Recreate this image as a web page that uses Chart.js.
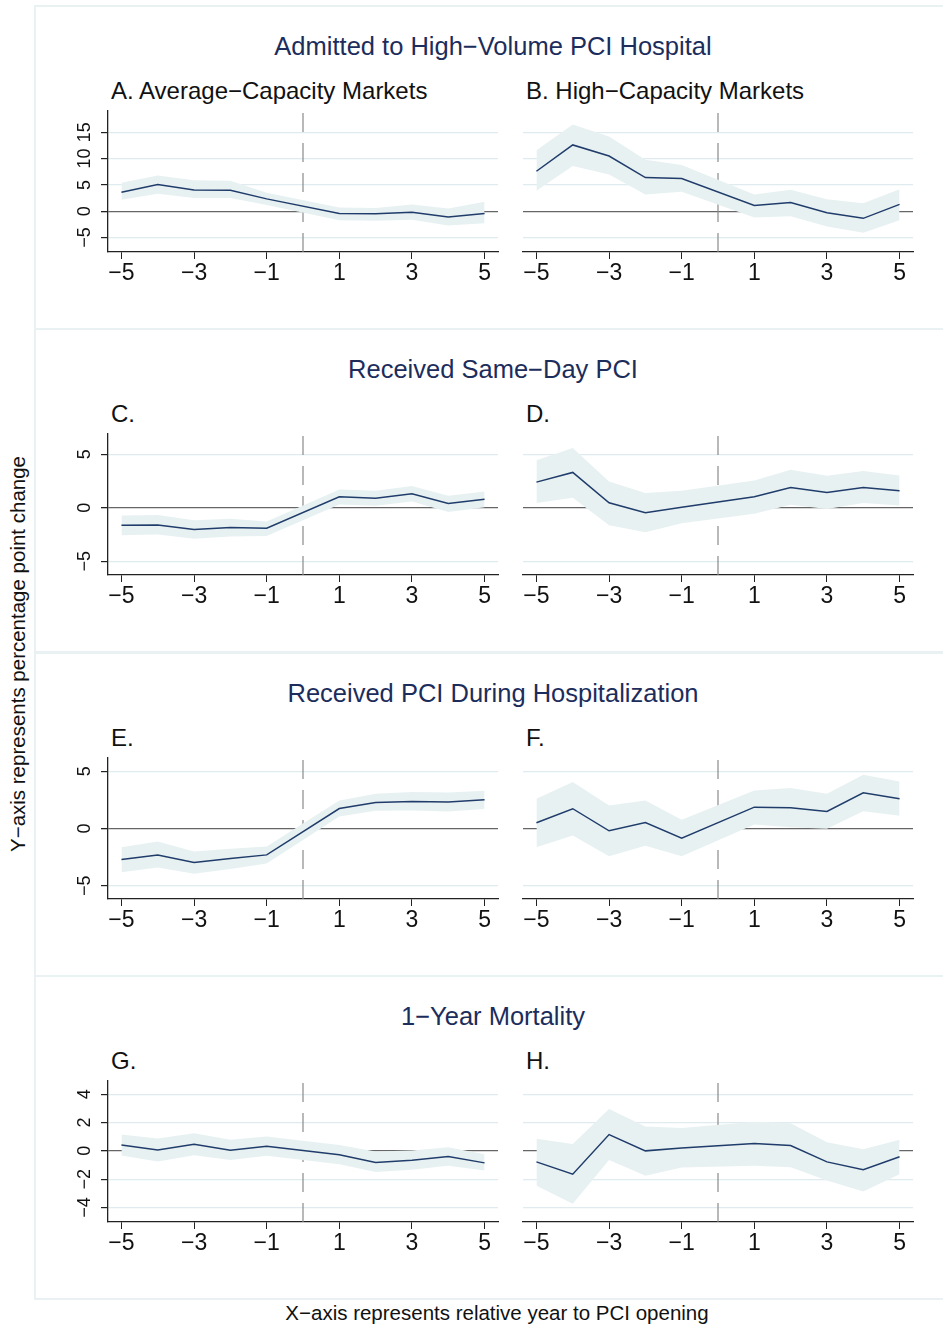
<!DOCTYPE html>
<html>
<head>
<meta charset="utf-8">
<script src="https://cdn.jsdelivr.net/npm/chart.js@4.4.0/dist/chart.umd.min.js"></script>
<style>
  html, body { margin: 0; padding: 0; background: #fff; overflow: hidden; }
  #page { position: relative; width: 943px; height: 1328px; background: #fff;
          font-family: "Liberation Sans", Arial, Helvetica, sans-serif; }
  .rowbox { position: absolute; left: 34px; width: 930px; height: 321px;
            border: 2px solid #e9f1f3; box-sizing: content-box; }
  .rowtitle { position: absolute; left: 0; width: 986px; text-align: center;
              font-size: 25.5px; color: #1c2d5c; line-height: 30px; white-space: nowrap; }
  .ptitle { position: absolute; font-size: 24px; color: #111; line-height: 28px; white-space: nowrap; }
  canvas { position: absolute; }
  #ylab { position: absolute; left: 18px; top: 654px; font-size: 20.5px; color: #111;
          transform: translate(-50%, -50%) rotate(-90deg); white-space: nowrap; }
  #xlab { position: absolute; left: 497px; top: 1313px; font-size: 20.5px; color: #111;
          transform: translate(-50%, -50%); white-space: nowrap; }
</style>
</head>
<body>
<div id="page"></div>
<script>
// Năm tương đối (bỏ năm 0)
const xYears = [-5, -4, -3, -2, -1, 1, 2, 3, 4, 5];
const xTickVals = [-5, -3, -1, 1, 3, 5];

// Tiêu đề
const rowTitles = ['Admitted to High\u2212Volume PCI Hospital', 'Received Same\u2212Day PCI',
    'Received PCI During Hospitalization', '1\u2212Year Mortality'];
const panelTitles = ['A. Average\u2212Capacity Markets', 'B. High\u2212Capacity Markets',
    'C.', 'D.', 'E.', 'F.', 'G.', 'H.'];

// Trục Y
const yTicksAB = [-5, 0, 5, 10, 15];
const yTicksCF = [-5, 0, 5];
const yTicksGH = [-4, -2, 0, 2, 4];

// A
const aEst = [3.6, 5.1, 4.05, 4.0, 2.35, -0.45, -0.5, -0.2, -1.1, -0.45];
const aHi = [5.4, 6.8, 5.9, 5.8, 3.5, 0.7, 0.6, 1.3, 0.5, 1.8];
const aLo = [2.2, 3.3, 2.5, 2.5, 1.2, -1.7, -1.8, -1.6, -2.7, -2.3];
// B
const bEst = [7.6, 12.6, 10.5, 6.4, 6.2, 1.1, 1.65, -0.3, -1.35, 1.3];
const bHi = [11.6, 16.5, 14.2, 9.8, 8.8, 3.2, 4.1, 2.3, 1.5, 4.2];
const bLo = [3.9, 8.6, 7.0, 3.2, 3.7, -1.2, -0.95, -2.9, -4.1, -1.7];
// C
const cEst = [-1.63, -1.6, -2.03, -1.84, -1.9, 1.03, 0.9, 1.31, 0.4, 0.81];
const cHi = [-0.72, -0.66, -1.16, -1.03, -1.28, 1.72, 1.6, 2.03, 1.12, 1.53];
const cLo = [-2.56, -2.5, -2.88, -2.69, -2.63, 0.31, 0.19, 0.6, -0.38, 0.06];
// D
const dEst = [2.4, 3.31, 0.47, -0.47, 0.06, 1.03, 1.9, 1.44, 1.9, 1.6];
const dHi = [4.44, 5.6, 2.47, 1.38, 1.6, 2.56, 3.56, 3.0, 3.44, 3.03];
const dLo = [0.44, 0.94, -1.63, -2.28, -1.44, -0.56, 0.28, -0.1, 0.44, 0.22];
// E
const eEst = [-2.72, -2.31, -2.98, -2.63, -2.31, 1.75, 2.28, 2.37, 2.31, 2.51];
const eHi = [-1.64, -1.14, -2.02, -1.78, -1.58, 2.46, 3.04, 3.19, 3.16, 3.3];
const eLo = [-3.83, -3.42, -3.95, -3.54, -3.07, 1.05, 1.55, 1.58, 1.49, 1.7];
// F
const fEst = [0.5, 1.73, -0.2, 0.53, -0.85, 1.87, 1.81, 1.49, 3.13, 2.6];
const fHi = [2.6, 4.06, 2.02, 2.46, 0.76, 3.33, 3.54, 3.04, 4.71, 4.12];
const fLo = [-1.64, -0.61, -2.43, -1.52, -2.43, 0.35, 0.12, -0.03, 1.52, 1.11];
// G
const gEst = [0.42, 0.07, 0.47, 0.05, 0.33, -0.28, -0.82, -0.66, -0.4, -0.85];
const gHi = [1.15, 0.87, 1.25, 0.78, 1.01, 0.42, -0.05, 0.02, 0.26, -0.24];
const gLo = [-0.33, -0.75, -0.31, -0.64, -0.35, -0.94, -1.5, -1.34, -1.06, -1.39];
// H
const hEst = [-0.78, -1.65, 1.15, 0.0, 0.21, 0.52, 0.38, -0.78, -1.34, -0.42];
const hHi = [0.85, 0.49, 2.96, 1.72, 1.62, 2.05, 1.95, 0.61, 0.12, 0.78];
const hLo = [-2.47, -3.74, -0.64, -1.76, -1.18, -1.06, -1.15, -2.09, -2.87, -1.65];

const FONT = '"Liberation Sans", Arial, Helvetica, sans-serif';
const NAVY = '#1f3c6a';
const BAND = '#e8f1f2';
const GRID = '#e0ebf0';

const panels = [
    { est: aEst, hi: aHi, lo: aLo, yMin: -7.75, yMax: 19.05, yTicks: yTicksAB },
    { est: bEst, hi: bHi, lo: bLo, yMin: -7.75, yMax: 19.05, yTicks: yTicksAB },
    { est: cEst, hi: cHi, lo: cLo, yMin: -6.28, yMax: 6.9, yTicks: yTicksCF },
    { est: dEst, hi: dHi, lo: dLo, yMin: -6.28, yMax: 6.9, yTicks: yTicksCF },
    { est: eEst, hi: eHi, lo: eLo, yMin: -6.17, yMax: 6.17, yTicks: yTicksCF },
    { est: fEst, hi: fHi, lo: fLo, yMin: -6.17, yMax: 6.17, yTicks: yTicksCF },
    { est: gEst, hi: gHi, lo: gLo, yMin: -5.03, yMax: 4.94, yTicks: yTicksGH },
    { est: hEst, hi: hHi, lo: hLo, yMin: -5.03, yMax: 4.94, yTicks: yTicksGH },
];

const ROW_STEP = 323.3;
const page = document.getElementById('page');

function fmt(v) {
    return v < 0 ? '\u2212' + Math.abs(v) : String(v);
}

function pts(arr) {
    return xYears.map((x, i) => ({ x: x, y: arr[i] }));
}

// Khung và tiêu đề
for (let r = 0; r < 4; r++) {
    const box = document.createElement('div');
    box.className = 'rowbox';
    box.style.top = Math.round(5 + r * ROW_STEP) + 'px';
    page.appendChild(box);

    const t = document.createElement('div');
    t.className = 'rowtitle';
    t.textContent = rowTitles[r];
    t.style.top = Math.round(46 + r * ROW_STEP - 15) + 'px';
    page.appendChild(t);
}
panelTitles.forEach((txt, i) => {
    const d = document.createElement('div');
    d.className = 'ptitle';
    d.textContent = txt;
    d.style.left = (i % 2 === 0 ? 111 : 526) + 'px';
    d.style.top = Math.round(91 + Math.floor(i / 2) * ROW_STEP - 14) + 'px';
    page.appendChild(d);
});
const yl = document.createElement('div');
yl.id = 'ylab';
yl.textContent = 'Y\u2212axis represents percentage point change';
page.appendChild(yl);
const xl = document.createElement('div');
xl.id = 'xlab';
xl.textContent = 'X\u2212axis represents relative year to PCI opening';
page.appendChild(xl);

// Plugin: đường nét đứt tại x = 0 và nhãn trục Y xoay
const refLine = {
    id: 'refLine',
    beforeDatasetsDraw(chart) {
        const { ctx, chartArea, scales } = chart;
        const px = scales.x.getPixelForValue(0);
        ctx.save();
        ctx.strokeStyle = '#8a8a8a';
        ctx.lineWidth = 1.2;
        ctx.setLineDash([19, 11]);
        ctx.beginPath();
        ctx.moveTo(px, chartArea.top + 2);
        ctx.lineTo(px, chartArea.bottom);
        ctx.stroke();
        ctx.restore();
    },
    afterDraw(chart) {
        if (!chart.options.plugins.refLine.showY) return;
        const { ctx, chartArea, scales } = chart;
        ctx.save();
        ctx.fillStyle = '#111';
        ctx.font = '18px ' + FONT;
        ctx.textAlign = 'center';
        ctx.textBaseline = 'middle';
        scales.y.ticks.forEach(t => {
            const py = scales.y.getPixelForValue(t.value);
            ctx.save();
            ctx.translate(chartArea.left - 23, py);
            ctx.rotate(-Math.PI / 2);
            ctx.fillText(fmt(t.value), 0, 0);
            ctx.restore();
        });
        ctx.restore();
    }
};

const PLOT_W = 390;
const PLOT_H = 141;
const Y_W = 60;
const X_H = 40;
const PAD_T = 10;
const PAD_R = 10;

panels.forEach((p, i) => {
    const r = Math.floor(i / 2);
    const left = i % 2 === 0;
    const plotLeft = left ? 108 : 522.5;
    const plotTop = 111 + r * ROW_STEP;

    const cv = document.createElement('canvas');
    const W = PLOT_W + Y_W + PAD_R;
    const H = PLOT_H + X_H + PAD_T;
    cv.width = W;
    cv.height = H;
    cv.style.width = W + 'px';
    cv.style.height = H + 'px';
    cv.style.left = (plotLeft - Y_W) + 'px';
    cv.style.top = (plotTop - PAD_T) + 'px';
    page.appendChild(cv);

    new Chart(cv, {
        type: 'line',
        data: {
            datasets: [
                {
                    data: pts(p.est),
                    borderColor: NAVY,
                    borderWidth: 1.5,
                    pointRadius: 0,
                    fill: false,
                    tension: 0
                },
                {
                    data: pts(p.hi),
                    borderWidth: 0,
                    borderColor: 'rgba(0,0,0,0)',
                    backgroundColor: BAND,
                    pointRadius: 0,
                    fill: '+1',
                    tension: 0
                },
                {
                    data: pts(p.lo),
                    borderWidth: 0,
                    borderColor: 'rgba(0,0,0,0)',
                    pointRadius: 0,
                    fill: false,
                    tension: 0
                }
            ]
        },
        options: {
            responsive: false,
            animation: false,
            devicePixelRatio: 1,
            layout: { padding: { top: PAD_T, right: PAD_R, left: 0, bottom: 0 } },
            plugins: {
                legend: { display: false },
                tooltip: { enabled: false },
                refLine: { showY: left }
            },
            scales: {
                x: {
                    type: 'linear',
                    min: -5.37,
                    max: 5.37,
                    afterBuildTicks: s => { s.ticks = xTickVals.map(v => ({ value: v })); },
                    afterFit: s => { s.height = X_H; },
                    border: { display: true, color: '#222', width: 1.3 },
                    grid: { drawOnChartArea: false, drawTicks: true, tickLength: 7, tickColor: '#222' },
                    ticks: {
                        font: { family: FONT, size: 23 },
                        color: '#111',
                        padding: 1,
                        maxRotation: 0,
                        autoSkip: false,
                        callback: v => fmt(v)
                    }
                },
                y: {
                    type: 'linear',
                    min: p.yMin,
                    max: p.yMax,
                    afterBuildTicks: s => { s.ticks = p.yTicks.map(v => ({ value: v })); },
                    afterFit: s => { s.width = Y_W; },
                    border: { display: left, color: '#222', width: 1.3 },
                    grid: {
                        drawOnChartArea: true,
                        drawTicks: left,
                        tickLength: 7,
                        tickColor: '#222',
                        color: c => (c.tick && c.tick.value === 0) ? '#666' : GRID,
                        lineWidth: c => (c.tick && c.tick.value === 0) ? 1.3 : 1.2
                    },
                    ticks: { display: false }
                }
            }
        },
        plugins: [refLine]
    });
});
</script>
</body>
</html>
